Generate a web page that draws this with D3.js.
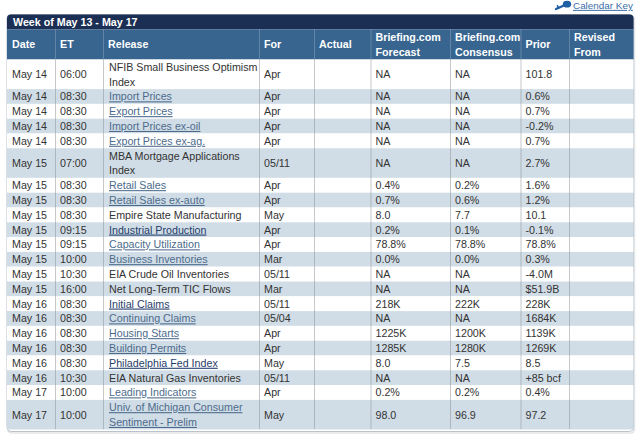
<!DOCTYPE html>
<html>
<head>
<meta charset="utf-8">
<script src="https://cdn.jsdelivr.net/npm/d3@7"></script>
<style>
  body { margin: 0; background: #fff; }
  text { font-family: Arial, "Liberation Sans", sans-serif; }
</style>
</head>
<body>
<script>
// Données du calendrier
const weekTitle = "Week of May 13 - May 17";
const keyLabel = "Calendar Key";
const headers = [["Date"], ["ET"], ["Release"], ["For"], ["Actual"],
  ["Briefing.com", "Forecast"], ["Briefing.com", "Consensus"], ["Prior"], ["Revised", "From"]];

const dates = ["May 14", "May 14", "May 14", "May 14", "May 14", "May 15", "May 15", "May 15",
  "May 15", "May 15", "May 15", "May 15", "May 15", "May 15", "May 16", "May 16", "May 16",
  "May 16", "May 16", "May 16", "May 17", "May 17"];
const times = ["06:00", "08:30", "08:30", "08:30", "08:30", "07:00", "08:30", "08:30", "08:30",
  "09:15", "09:15", "10:00", "10:30", "16:00", "08:30", "08:30", "08:30", "08:30", "08:30",
  "10:30", "10:00", "10:00"];
const releases = ["NFIB Small Business Optimism Index", "Import Prices", "Export Prices",
  "Import Prices ex-oil", "Export Prices ex-ag.", "MBA Mortgage Applications Index",
  "Retail Sales", "Retail Sales ex-auto", "Empire State Manufacturing", "Industrial Production",
  "Capacity Utilization", "Business Inventories", "EIA Crude Oil Inventories",
  "Net Long-Term TIC Flows", "Initial Claims", "Continuing Claims", "Housing Starts",
  "Building Permits", "Philadelphia Fed Index", "EIA Natural Gas Inventories",
  "Leading Indicators", "Univ. of Michigan Consumer Sentiment - Prelim"];
const periods = ["Apr", "Apr", "Apr", "Apr", "Apr", "05/11", "Apr", "Apr", "May", "Apr", "Apr",
  "Mar", "05/11", "Mar", "05/11", "05/04", "Apr", "Apr", "May", "05/11", "Apr", "May"];
const actuals = releases.map(() => "");
const forecasts = ["NA", "NA", "NA", "NA", "NA", "NA", "0.4%", "0.7%", "8.0", "0.2%", "78.8%",
  "0.0%", "NA", "NA", "218K", "NA", "1225K", "1285K", "8.0", "NA", "0.2%", "98.0"];
const consensus = ["NA", "NA", "NA", "NA", "NA", "NA", "0.2%", "0.6%", "7.7", "0.1%", "78.8%",
  "0.0%", "NA", "NA", "222K", "NA", "1200K", "1280K", "7.5", "NA", "0.2%", "96.9"];
const priors = ["101.8", "0.6%", "0.7%", "-0.2%", "0.7%", "2.7%", "1.6%", "1.2%", "10.1",
  "-0.1%", "78.8%", "0.3%", "-4.0M", "$51.9B", "228K", "1684K", "1139K", "1269K", "8.5",
  "+85 bcf", "0.4%", "97.2"];
const revised = releases.map(() => "");
// liens (true = lien) et liens déjà visités
const linked = [false, true, true, true, true, false, true, true, false, true, true, true,
  false, false, true, true, true, true, true, false, true, true];
const visited = [false, false, false, false, false, false, false, false, false, true, false,
  false, false, false, true, false, false, false, true, false, false, false];

// Mise en page
const W = 640, H = 442;
const colWidths = [48, 48, 156, 55, 56.5, 79.5, 70.5, 48.5, 64.5];
const left = 7;
const titleTop = 14.5, headTop = 29.5, bodyTop = 59.5, lineH = 14.8;
const fontSize = 10.7;
const colors = {
  title: "#1b2f55", head: "#376590", band: "#d1dde6", text: "#333",
  link: "#4c6b8c", visited: "#1f3d6a", border: "#aab4bd"
};

const colEdges = d3.cumsum([left, ...colWidths]);
const right = colEdges[colEdges.length - 1];

const svg = d3.select("body").append("svg")
  .attr("width", W)
  .attr("height", H);

// Mesure du texte pour le retour à la ligne
const measure = svg.append("text").attr("font-size", fontSize).attr("visibility", "hidden");
function wrap(str, maxW) {
  const words = str.split(" ");
  const lines = [];
  let cur = "";
  words.forEach(w => {
    const t = cur ? cur + " " + w : w;
    measure.text(t);
    if (cur && measure.node().getComputedTextLength() > maxW) {
      lines.push(cur);
      cur = w;
    } else cur = t;
  });
  lines.push(cur);
  return lines;
}

const rows = releases.map((r, i) => ({
  i,
  cells: [dates[i], times[i], r, periods[i], actuals[i], forecasts[i], consensus[i], priors[i], revised[i]],
  lines: wrap(r, colWidths[2] - 3),
  linked: linked[i],
  visited: visited[i]
}));
measure.remove();

let acc = 0;
rows.forEach(r => { r.start = acc; acc += r.lines.length; });
const totalLines = acc;

const y = d3.scaleLinear().domain([0, totalLines]).range([bodyTop, bodyTop + totalLines * lineH]);
const x = d3.scaleOrdinal().domain(d3.range(colWidths.length)).range(colEdges.slice(0, -1));
const bodyBottom = y(totalLines);
const tableBottom = bodyBottom + 2;

// Ombre et bordure du tableau
const r0 = 4;
const outline = `M${left},${titleTop + r0} Q${left},${titleTop} ${left + r0},${titleTop}
  L${right - r0},${titleTop} Q${right},${titleTop} ${right},${titleTop + r0}
  L${right},${tableBottom - r0} Q${right},${tableBottom} ${right - r0},${tableBottom}
  L${left + r0},${tableBottom} Q${left},${tableBottom} ${left},${tableBottom - r0} Z`;

svg.append("path").attr("d", outline)
  .attr("transform", "translate(1,1.5)")
  .attr("fill", "none").attr("stroke", "#e2e5e8").attr("stroke-width", 1.5);
svg.append("path").attr("d", outline)
  .attr("fill", "#fff").attr("stroke", colors.border).attr("stroke-width", 0.8);

// Barre de titre
svg.append("path")
  .attr("d", `M${left},${headTop} L${left},${titleTop + r0} Q${left},${titleTop} ${left + r0},${titleTop}
    L${right - r0},${titleTop} Q${right},${titleTop} ${right},${titleTop + r0} L${right},${headTop} Z`)
  .attr("fill", colors.title);
svg.append("text")
  .attr("x", left + 6).attr("y", (titleTop + headTop) / 2)
  .attr("dy", "0.36em")
  .attr("font-size", fontSize).attr("font-weight", "bold").attr("fill", "#fff")
  .text(weekTitle);

// Ligne d'en-tête
svg.append("rect")
  .attr("x", left).attr("y", headTop)
  .attr("width", right - left).attr("height", bodyTop - headTop)
  .attr("fill", colors.head);

const headG = svg.append("g").selectAll("text")
  .data(headers)
  .join("text")
  .attr("x", (d, i) => x(i) + 5)
  .attr("font-size", fontSize).attr("font-weight", "bold").attr("fill", "#fff");
headG.selectAll("tspan")
  .data(d => d.map((t, k) => ({ t, k, n: d.length })))
  .join("tspan")
  .attr("x", function () { return this.parentNode.getAttribute("x"); })
  .attr("y", d => (headTop + bodyTop) / 2 + (d.k - (d.n - 1) / 2) * 14.6)
  .attr("dy", "0.36em")
  .text(d => d.t);

// Lignes du corps
svg.append("g").selectAll("rect")
  .data(rows)
  .join("rect")
  .attr("x", left)
  .attr("y", d => y(d.start))
  .attr("width", right - left)
  .attr("height", d => y(d.start + d.lines.length) - y(d.start))
  .attr("fill", d => d.i % 2 ? colors.band : "#fff");

// Séparateurs de colonnes en pointillés
const seps = colEdges.slice(1, -1);
svg.append("g").selectAll("line")
  .data(seps)
  .join("line")
  .attr("x1", d => d + 0.5).attr("x2", d => d + 0.5)
  .attr("y1", headTop).attr("y2", bodyTop)
  .attr("stroke", "#8ea6bb").attr("stroke-width", 1)
  .attr("stroke-dasharray", "1,1");
svg.append("g").selectAll("line")
  .data(seps)
  .join("line")
  .attr("x1", d => d + 0.5).attr("x2", d => d + 0.5)
  .attr("y1", bodyTop).attr("y2", bodyBottom)
  .attr("stroke", "#8a8f95").attr("stroke-width", 1)
  .attr("stroke-dasharray", "1,1");

// Cellules
const rowG = svg.append("g").selectAll("g")
  .data(rows)
  .join("g");

rowG.each(function (row) {
  const g = d3.select(this);
  const mid = (y(row.start) + y(row.start + row.lines.length)) / 2;
  row.cells.forEach((val, c) => {
    if (!val) return;
    if (c === 2) {
      g.selectAll("text.rel")
        .data(row.lines)
        .join("text")
        .attr("class", "rel")
        .attr("x", x(c) + 6)
        .attr("y", (d, k) => (y(row.start + k) + y(row.start + k + 1)) / 2)
        .attr("dy", "0.36em")
        .attr("font-size", fontSize)
        .attr("fill", row.linked ? (row.visited ? colors.visited : colors.link) : colors.text)
        .attr("text-decoration", row.linked ? "underline" : null)
        .text(d => d);
    } else {
      g.append("text")
        .attr("x", x(c) + 5)
        .attr("y", mid)
        .attr("dy", "0.36em")
        .attr("font-size", fontSize)
        .attr("fill", colors.text)
        .text(val);
    }
  });
});

// Lien "Calendar Key" avec la clé
const keyG = svg.append("g");
keyG.append("text")
  .attr("x", 573).attr("y", 5.3).attr("dy", "0.36em")
  .attr("font-size", 9.9)
  .attr("fill", "#3a6ea5")
  .attr("text-decoration", "underline")
  .text(keyLabel);
keyG.append("line")
  .attr("x1", 556).attr("y1", 9).attr("x2", 565).attr("y2", 5)
  .attr("stroke", "#1f5fa6").attr("stroke-width", 2.4).attr("stroke-linecap", "round");
keyG.append("path")
  .attr("d", "M558.5,8 L557.5,5.8")
  .attr("stroke", "#1f5fa6").attr("stroke-width", 1.6).attr("stroke-linecap", "round");
keyG.append("ellipse")
  .attr("cx", 567).attr("cy", 4.2).attr("rx", 4.2).attr("ry", 3.4)
  .attr("fill", "#1f5fa6");
</script>
</body>
</html>
